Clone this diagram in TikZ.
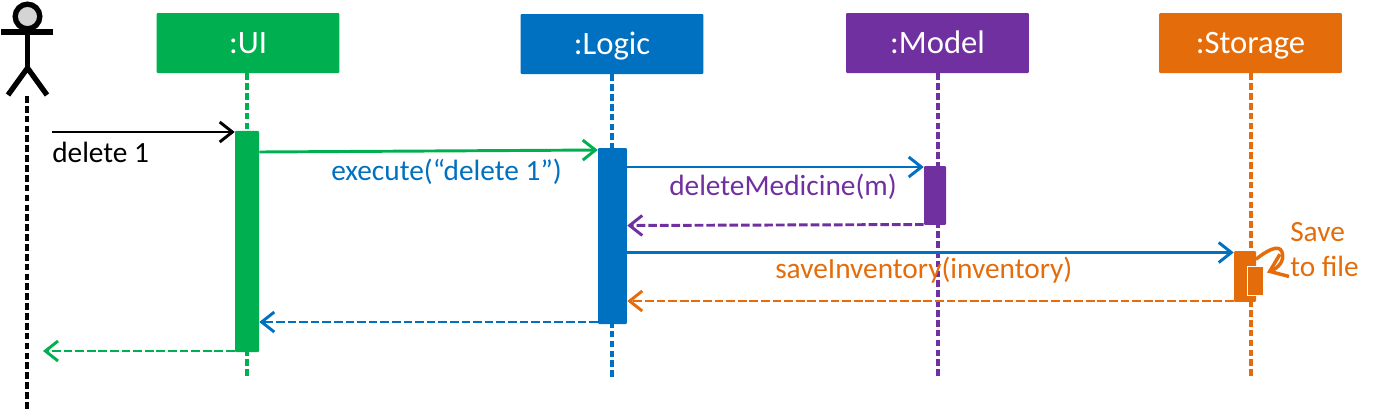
\documentclass[tikz,border=0pt]{standalone}
\usepackage{fontspec}
\setmainfont{Carlito}
\usetikzlibrary{arrows.meta}
\definecolor{uigreen}{HTML}{00B050}
\definecolor{logicblue}{HTML}{0070C0}
\definecolor{modelpurple}{HTML}{7030A0}
\definecolor{storageorange}{HTML}{E46C0A}
\tikzset{
  x=0.75pt, y=-0.75pt,
  headbox/.style={fill=#1, draw=none, text=white, rounded corners=0.8pt,
    minimum width=137pt, minimum height=45pt, inner sep=0pt,
    text height=15pt, text depth=0pt,
    font=\fontsize{24.5}{29}\selectfont},
  actbar/.style={fill=#1, draw=none, rounded corners=0.8pt, inner sep=0pt},
  lifeline/.style={draw=#1, line width=2.3pt, dash pattern=on 5pt off 2.4pt},
  callmsg/.style={draw=#1, line width=2.2pt, -{Straight Barb[length=9.5pt,width=15pt,line width=2.2pt]}},
  returnmsg/.style={draw=#1, line width=2.2pt, dash pattern=on 6.5pt off 2.2pt,
    -{Straight Barb[length=9.5pt,width=15pt,line width=2.2pt]}},
  selfmsg/.style={draw=#1, line width=2.6pt, line cap=round,
    -{Straight Barb[length=12pt,width=18pt,line width=2.6pt]}},
  msglabel/.style={text=#1, anchor=base west, inner sep=0pt,
    font=\fontsize{22}{26}\selectfont},
}
\begin{document}
\begin{tikzpicture}
\useasboundingbox (0,0) rectangle (1378,412);

% Participants
\node[headbox=uigreen] (ui) at (248,43) {:UI};
\node[headbox=logicblue] (logic) at (612,44) {:Logic};
\node[headbox=modelpurple] (model) at (937.5,43) {:Model};
\node[headbox=storageorange] (storage) at (1250.5,43) {:Storage};

% Lifeline ends
\coordinate (uiEnd) at (247,378);
\coordinate (logicEnd) at (612,378);
\coordinate (modelEnd) at (938,378);
\coordinate (storageEnd) at (1251,377);
\coordinate (actorFoot) at (27,96);
\coordinate (actorEnd) at (27,411);

\draw[lifeline=uigreen] (ui.south -| uiEnd) -- (uiEnd);
\draw[lifeline=logicblue] (logic.south -| logicEnd) -- (logicEnd);
\draw[lifeline=modelpurple] (model.south -| modelEnd) -- (modelEnd);
\draw[lifeline=storageorange] (storage.south -| storageEnd) -- (storageEnd);
\draw[lifeline=black] (actorFoot) -- (actorEnd);

% Actor figure
\begin{scope}[draw=black, line width=4pt]
  \draw[fill=black!17] (27.5,16.5) circle[radius=12.3];
  \draw (1,32) -- (53,32);
  \draw (27.5,29) -- (27.5,68);
  \draw (8,95) -- (27.5,68) -- (47,95);
\end{scope}

% Activation bars
\node[actbar=uigreen, minimum width=18pt, minimum height=166pt] (uiBar) at (247,241.5) {};
\node[actbar=logicblue, minimum width=21.7pt, minimum height=132pt] (logicBar) at (612.5,236) {};
\node[actbar=modelpurple, minimum width=16.5pt, minimum height=44.2pt] (modelBar) at (935,195.5) {};
\node[actbar=storageorange, minimum width=16.5pt, minimum height=38.2pt] (storageBar) at (1245,276.5) {};
\node[actbar=storageorange, draw=white, line width=1pt, rounded corners=0pt,
      minimum width=12.4pt, minimum height=21.6pt] (saveBar) at (1255.5,281) {};

% Messages
\coordinate (userStart) at (52,132);
\coordinate (userEnd) at (43,351);
\draw[callmsg=black] (userStart) -- (uiBar.west |- userStart);
\draw[callmsg=uigreen] (uiBar.east |- 0,152) -- (logicBar.west |- 0,150);
\draw[callmsg=logicblue] (logicBar.east |- 0,167) -- (modelBar.west |- 0,167);
\draw[returnmsg=modelpurple] (modelBar.west |- 0,224.5) -- (logicBar.east |- 0,225.5);
\draw[callmsg=logicblue] (logicBar.east |- 0,252.5) -- (storageBar.west |- 0,252.5);
\draw[returnmsg=storageorange] (storageBar.west |- 0,301) -- (logicBar.east |- 0,301);
\draw[returnmsg=logicblue] (logicBar.west |- 0,322) -- (uiBar.east |- 0,322);
\draw[returnmsg=uigreen] (uiBar.west |- userEnd) -- (userEnd);
\draw[selfmsg=storageorange]
  (storageBar.east |- 0,259) .. controls (1265,252) and (1279,243) .. (1282,252)
  .. controls (1285,261) and (1278,268) .. (1267,272.5);

% Labels
\node[msglabel=black] (deleteLabel) at (52,162) {delete 1};
\node[msglabel=logicblue] (executeLabel) at (331,180.5) {execute(“delete 1”)};
\node[msglabel=modelpurple] (deleteMedLabel) at (669,195.5) {deleteMedicine(m)};
\node[msglabel=storageorange] (saveInvLabel) at (775,278) {saveInventory(inventory)};
\node[msglabel=storageorange] (saveLabel) at (1290,241.5) {Save};
\node[msglabel=storageorange] (fileLabel) at (1290,276.5) {to file};
\end{tikzpicture}
\end{document}
